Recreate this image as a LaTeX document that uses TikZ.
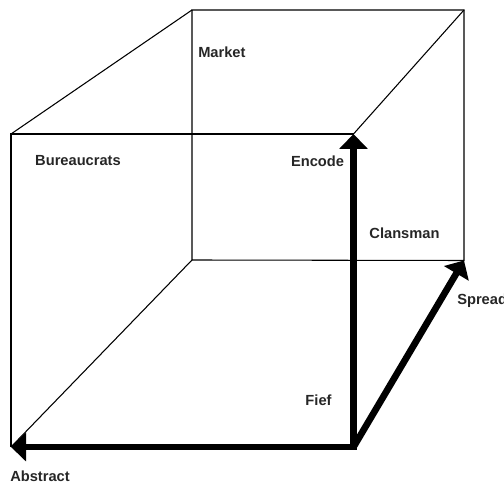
\documentclass[tikz,border=0pt]{standalone}
\usepackage{fontspec}
\setmainfont{Liberation Sans}
\usetikzlibrary{arrows.meta}
\tikzset{
  thin edge/.style={draw=black, line width=0.8pt},
  thick arrow/.style={draw=black, line width=5pt, -{Triangle[width=21pt,length=11.25pt]}},
  lbl/.style={font=\fontsize{11}{13}\selectfont\bfseries, inner sep=0pt, text=black!85}
}
\begin{document}
\begin{tikzpicture}[x=0.75pt,y=-0.75pt]
\useasboundingbox (0,0) rectangle (504,484);
% front face corners
\coordinate (FTL) at (11,134);
\coordinate (FTR) at (353.5,134);
\coordinate (FBL) at (11,447);
\coordinate (P)   at (353.5,447);
% back face corners
\coordinate (BTL) at (192,10);
\coordinate (BTR) at (464,10);
\coordinate (BBL) at (192,260);
\coordinate (BBR) at (464,260.5);
% thin edges
\draw[thin edge] (BTL) -- (BTR) -- (BBR) -- (BBL) -- cycle;
\draw[thin edge] (FBL) -- (FTL) -- (FTR);
\draw[thin edge] (FTL) -- (BTL);
\draw[thin edge] (FTR) -- (BTR);
\draw[thin edge] (FBL) -- (BBL);
% thick arrows
\draw[thick arrow, line cap=rect] (P) -- (FBL);
\draw[thick arrow, line cap=rect] (P) -- (FTR);
\draw[thick arrow] (P) -- (BBR);
% labels
\node[lbl, anchor=west] (market) at (198,52.7) {Market};
\node[lbl] (bureau) at (78,160.5) {Bureaucrats};
\node[lbl] (encode) at (317.5,161.5) {Encode};
\node[lbl] (clans) at (404.5,233) {Clansman};
\node[lbl, anchor=west] (spread) at (457,301) {Spread};
\node[lbl] (fief) at (318.5,400.5) {Fief};
\node[lbl, anchor=west] (abstract) at (10,476) {Abstract};
\end{tikzpicture}
\end{document}
